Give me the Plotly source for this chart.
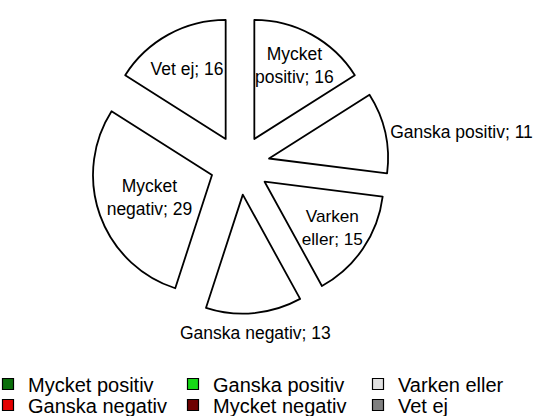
import math
import plotly.graph_objects as go

# ---- data ----
categories = ["Mycket positiv", "Ganska positiv", "Varken eller",
              "Ganska negativ", "Mycket negativ", "Vet ej"]
values = [16, 11, 15, 13, 29, 16]
label_text = ["Mycket<br>positiv", "Ganska positiv", "Varken<br>eller",
              "Ganska negativ", "Mycket<br>negativ", "Vet ej"]
legend_colors = ["#0a6e0a", "#16d916", "#e0e0e0", "#e30000", "#6e0000", "#808080"]

# label placement style: pie-native text or annotation at radius fraction
text_positions = ["none", "outside", "inside", "none", "inside", "inside"]
annot_radius = {0: 0.70, 3: 1.17}

FONT = "Liberation Sans, Arial, sans-serif"
W, H = 560, 416
LABEL_SIZE = 17.5

fig = go.Figure()

# pie geometry (pixels) -> domain
cx, cy, R, pull = 240, 165, 119, 0.25
half = R * (1 + pull)
texts = [f"{t}; {v}" for t, v in zip(label_text, values)]
fig.add_trace(go.Pie(
    labels=categories,
    values=values,
    text=texts,
    textinfo="text",
    textposition=text_positions,
    insidetextorientation="horizontal",
    sort=False,
    direction="clockwise",
    rotation=0,
    pull=[pull] * len(values),
    marker=dict(colors=["white"] * len(values), line=dict(color="black", width=1.8)),
    textfont=dict(family=FONT, size=LABEL_SIZE, color="black"),
    showlegend=False,
    hoverinfo="skip",
    domain=dict(x=[(cx - half) / W, (cx + half) / W],
                y=[(H - cy - half) / H, (H - cy + half) / H]),
))

# annotations for labels that the pie would shrink / misplace
total = sum(values)
cum = 0
for i, v in enumerate(values):
    theta = 2 * math.pi * (cum + v / 2) / total
    cum += v
    if i not in annot_radius:
        continue
    pcx = cx + pull * R * math.sin(theta)
    pcy = cy - pull * R * math.cos(theta)
    f = annot_radius[i]
    px = pcx + f * R * math.sin(theta)
    py = pcy - f * R * math.cos(theta)
    fig.add_annotation(x=px / W, y=1 - py / H, xref="paper", yref="paper",
                       text=texts[i], showarrow=False,
                       xanchor="center", yanchor="middle",
                       font=dict(family=FONT, size=LABEL_SIZE, color="black"))

# legend entries (two rows of three)
for i, (name, col) in enumerate(zip(categories, legend_colors)):
    fig.add_trace(go.Scatter(
        x=[None], y=[None], mode="markers", name=name,
        marker=dict(symbol="square", size=11, color=col,
                    line=dict(color="black", width=1.2)),
        legend="legend" if i < 3 else "legend2",
        hoverinfo="skip",
    ))

leg_common = dict(orientation="h", xanchor="left", yanchor="middle",
                  font=dict(family=FONT, size=20, color="black"),
                  entrywidth=152, entrywidthmode="pixels", indentation=-12,
                  bgcolor="rgba(0,0,0,0)", traceorder="normal")

fig.update_layout(
    width=W, height=H,
    margin=dict(l=0, r=0, t=0, b=0, autoexpand=False),
    paper_bgcolor="white", plot_bgcolor="white",
    xaxis=dict(visible=False), yaxis=dict(visible=False),
    legend=dict(x=0, y=(H - 384) / H, **leg_common),
    legend2=dict(x=0, y=(H - 405) / H, **leg_common),
)

fig.write_html("out.html", config={"displayModeBar": False},
               post_script="document.body.style.margin='0';")
